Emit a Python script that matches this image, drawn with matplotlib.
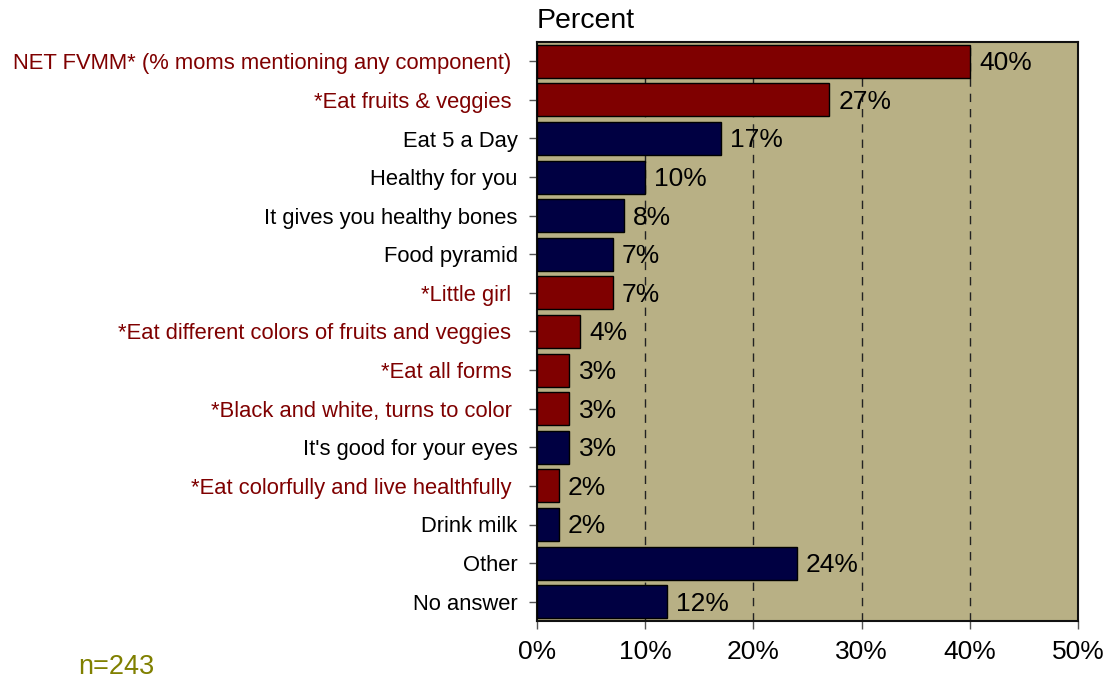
import matplotlib
matplotlib.use("Agg")
import matplotlib.pyplot as plt

# ─── Data ─────────────────────────────────────────────────────────────────────
categories = [
    "NET FVMM* (% moms mentioning any component) ",
    "*Eat fruits & veggies ",
    "Eat 5 a Day",
    "Healthy for you",
    "It gives you healthy bones",
    "Food pyramid",
    "*Little girl ",
    "*Eat different colors of fruits and veggies ",
    "*Eat all forms ",
    "*Black and white, turns to color ",
    "It's good for your eyes",
    "*Eat colorfully and live healthfully ",
    "Drink milk",
    "Other",
    "No answer",
]
values = [40, 27, 17, 10, 8, 7, 7, 4, 3, 3, 3, 2, 2, 24, 12]
highlight = [True, True, False, False, False, False, True, True, True, True,
             False, True, False, False, False]
x_ticks = [0, 10, 20, 30, 40, 50]

RED = "#7f0000"
NAVY = "#000042"
TAN = "#b8b085"
OLIVE = "#808000"

plt.rcParams["font.family"] = ["Liberation Sans", "DejaVu Sans"]

fig = plt.figure(figsize=(11.07, 6.79), dpi=100)
ax = fig.add_axes([537 / 1107, 1 - 621 / 679, (1078 - 537) / 1107, (621 - 42) / 679])
ax.set_facecolor(TAN)

y = list(range(len(categories)))
colors = [RED if h else NAVY for h in highlight]
ax.barh(y, values, height=0.86, color=colors, edgecolor="black", linewidth=1.0, zorder=3)

for yi, v in zip(y, values):
    ax.text(v + 0.85, yi + 0.05, f"{v}%", va="center", ha="left", fontsize=19, zorder=4)

ax.set_xlim(0, 50)
ax.set_ylim(len(categories) - 0.5, -0.5)
ax.set_xticks(x_ticks)
ax.set_xticklabels([f"{t}%" for t in x_ticks], fontsize=19)
ax.set_yticks(y)
ax.set_yticklabels(categories, fontsize=15.8)
for lbl, h in zip(ax.get_yticklabels(), highlight):
    lbl.set_color(RED if h else "black")

ax.tick_params(axis="y", length=6, width=1, color="#555555", pad=8)
ax.tick_params(axis="x", length=6, width=1, color="#555555", pad=8)

for t in x_ticks[1:-1]:
    ax.axvline(t, color="#222222", linestyle=(0, (6, 5)), linewidth=1, zorder=2)

for side in ax.spines.values():
    side.set_linewidth(1.5)
    side.set_color("#111111")

fig.text(537 / 1107, 1 - 21 / 679, "Percent", fontsize=20.5, ha="left", va="center")
fig.text(78 / 1107, 1 - 667 / 679, "n=243", fontsize=19.5, color=OLIVE, ha="left", va="center")

fig.savefig("out.png", dpi=100)
